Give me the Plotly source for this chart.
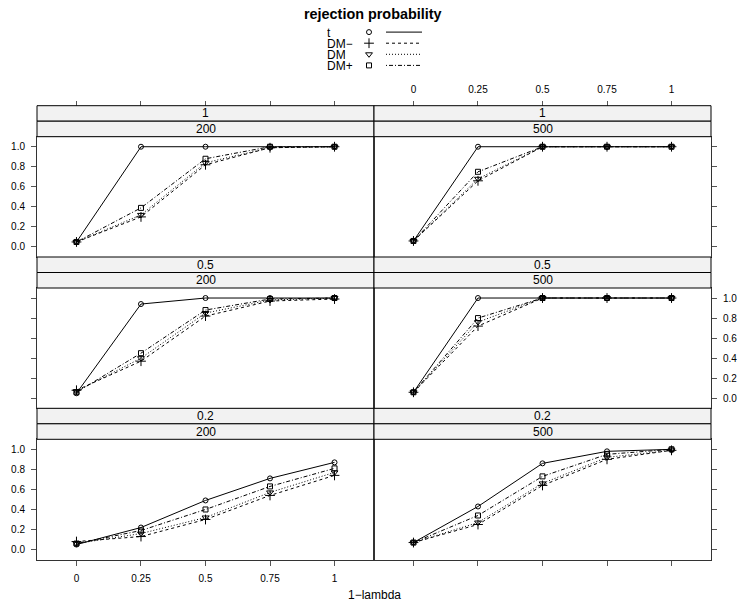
import plotly.graph_objects as go

# ---------------- data ----------------
x_vals = [0, 0.25, 0.5, 0.75, 1]
x_ticktext = ["0", "0.25", "0.5", "0.75", "1"]
y_tickvals = [0.0, 0.2, 0.4, 0.6, 0.8, 1.0]
y_ticktext = ["0.0", "0.2", "0.4", "0.6", "0.8", "1.0"]
methods = ["t", "DM\u2212", "DM", "DM+"]
strip_top = ["1", "1", "0.5", "0.5", "0.2", "0.2"]
strip_n = ["200", "500", "200", "500", "200", "500"]

# panel: top strip 1, N=200
p1_200_t = [0.05, 1.00, 1.00, 1.00, 1.00]
p1_200_dmm = [0.05, 0.30, 0.82, 0.99, 1.00]
p1_200_dm = [0.05, 0.32, 0.84, 0.99, 1.00]
p1_200_dmp = [0.05, 0.39, 0.88, 1.00, 1.00]
# panel: top strip 1, N=500
p1_500_t = [0.06, 1.00, 1.00, 1.00, 1.00]
p1_500_dmm = [0.06, 0.66, 1.00, 1.00, 1.00]
p1_500_dm = [0.06, 0.68, 1.00, 1.00, 1.00]
p1_500_dmp = [0.06, 0.75, 1.00, 1.00, 1.00]
# panel: top strip 0.5, N=200
p05_200_t = [0.05, 0.94, 1.00, 1.00, 1.00]
p05_200_dmm = [0.08, 0.37, 0.82, 0.97, 0.99]
p05_200_dm = [0.07, 0.40, 0.85, 0.98, 1.00]
p05_200_dmp = [0.06, 0.45, 0.88, 0.99, 1.00]
# panel: top strip 0.5, N=500
p05_500_t = [0.06, 1.00, 1.00, 1.00, 1.00]
p05_500_dmm = [0.06, 0.72, 1.00, 1.00, 1.00]
p05_500_dm = [0.06, 0.76, 1.00, 1.00, 1.00]
p05_500_dmp = [0.06, 0.80, 1.00, 1.00, 1.00]
# panel: top strip 0.2, N=200
p02_200_t = [0.05, 0.22, 0.49, 0.71, 0.87]
p02_200_dmm = [0.08, 0.13, 0.30, 0.54, 0.74]
p02_200_dm = [0.06, 0.16, 0.32, 0.57, 0.77]
p02_200_dmp = [0.06, 0.19, 0.40, 0.63, 0.81]
# panel: top strip 0.2, N=500
p02_500_t = [0.07, 0.43, 0.86, 0.98, 1.00]
p02_500_dmm = [0.07, 0.25, 0.64, 0.90, 0.99]
p02_500_dm = [0.07, 0.27, 0.66, 0.92, 0.99]
p02_500_dmp = [0.07, 0.34, 0.73, 0.95, 1.00]

panels = [
    [p1_200_t, p1_200_dmm, p1_200_dm, p1_200_dmp],
    [p1_500_t, p1_500_dmm, p1_500_dm, p1_500_dmp],
    [p05_200_t, p05_200_dmm, p05_200_dm, p05_200_dmp],
    [p05_500_t, p05_500_dmm, p05_500_dm, p05_500_dmp],
    [p02_200_t, p02_200_dmm, p02_200_dm, p02_200_dmp],
    [p02_500_t, p02_500_dmm, p02_500_dm, p02_500_dmp],
]

# ---------------- styles ----------------
W, H = 739, 602
FONT = "Liberation Sans, Arial, Helvetica, sans-serif"
symbols = ["circle-open", "cross-thin-open", "triangle-down-open", "square-open"]
msizes = [5, 7, 6, 5]
dashes = ["solid", "3px,3px", "1px,2px", "1px,2px,4px,2px"]
BORDER = "#333333"
TICKC = "#555555"


def px(v):
    return v / W


def py(v):
    return 1 - v / H


col_x = [(37, 374), (374, 711)]
row_strip_top = [105.7, 257.0, 408.3]
STRIP_H = 15.5
ROW_H = 151.3

fig = go.Figure()
shapes = []
annotations = []

xr = [-0.153, 1.153]
yr = [-0.1, 1.1]

for i in range(6):
    r, c = divmod(i, 2)
    idx = i + 1
    xa = "x" if idx == 1 else f"x{idx}"
    ya = "y" if idx == 1 else f"y{idx}"
    for k in range(4):
        fig.add_trace(go.Scatter(
            x=x_vals, y=panels[i][k], xaxis=xa, yaxis=ya, mode="lines+markers",
            line=dict(color="black", width=1, dash=dashes[k]),
            marker=dict(symbol=symbols[k], size=msizes[k], color="black",
                        line=dict(color="black", width=1)),
            showlegend=False, hoverinfo="skip"))
    st = row_strip_top[r]
    x0, x1 = col_x[c]
    ptop = st + 2 * STRIP_H
    pbot = st + ROW_H
    xkey = "xaxis" if idx == 1 else f"xaxis{idx}"
    ykey = "yaxis" if idx == 1 else f"yaxis{idx}"
    xaxis = dict(domain=[px(x0), px(x1)], range=xr, anchor=ya,
                 showgrid=False, zeroline=False, showline=True, mirror=True,
                 linecolor=BORDER, linewidth=1, tickvals=x_vals, ticktext=x_ticktext,
                 ticks="outside" if r == 2 else "", ticklen=5, tickcolor=TICKC,
                 showticklabels=(r == 2 and c == 0), ticklabelstandoff=4,
                 tickfont=dict(family=FONT, size=10, color="black"))
    yaxis = dict(domain=[py(pbot), py(ptop)], range=yr, anchor=xa,
                 side="left" if c == 0 else "right",
                 showgrid=False, zeroline=False, showline=True, mirror=True,
                 linecolor=BORDER, linewidth=1, tickvals=y_tickvals, ticktext=y_ticktext,
                 ticks="outside", ticklen=5, tickcolor=TICKC,
                 showticklabels=((c == 0 and r != 1) or (c == 1 and r == 1)),
                 ticklabelstandoff=4,
                 tickfont=dict(family=FONT, size=10, color="black"))
    fig.layout[xkey] = xaxis
    fig.layout[ykey] = yaxis
    # strips
    for s, txt in enumerate([strip_top[i], strip_n[i]]):
        s0 = st + s * STRIP_H
        s1 = s0 + STRIP_H
        shapes.append(dict(type="rect", xref="paper", yref="paper",
                           x0=px(x0), x1=px(x1), y0=py(s1), y1=py(s0),
                           fillcolor="#f2f2f2", line=dict(color="black", width=1)))
        annotations.append(dict(text=txt, xref="paper", yref="paper",
                                x=px((x0 + x1) / 2), y=py((s0 + s1) / 2),
                                xanchor="center", yanchor="middle", showarrow=False,
                                font=dict(family=FONT, size=12, color="black")))

# top axes (ticks on top of strips in first row)
for j, (ov, ya) in enumerate([("x", "y"), ("x2", "y2")]):
    idx = 7 + j
    fig.add_trace(go.Scatter(x=[None], y=[None], xaxis=f"x{idx}", yaxis=ya,
                             showlegend=False, hoverinfo="skip"))
    fig.layout[f"xaxis{idx}"] = dict(
        overlaying=ov, anchor="free", position=py(row_strip_top[0]), side="top",
        range=xr, showgrid=False, zeroline=False, showline=False,
        tickvals=x_vals, ticktext=x_ticktext, ticks="outside", ticklen=5,
        tickcolor=TICKC, showticklabels=(j == 1), ticklabelstandoff=4,
        tickfont=dict(family=FONT, size=10, color="black"))

# legend drawn on a hidden full-canvas axis (pixel coordinates)
leg_y = [32.1, 43.2, 54.3, 65.4]
for k in range(4):
    fig.add_trace(go.Scatter(
        x=[369], y=[leg_y[k]], xaxis="x9", yaxis="y9", mode="markers",
        marker=dict(symbol=symbols[k], size=msizes[k], color="black",
                    line=dict(color="black", width=1)),
        showlegend=False, hoverinfo="skip"))
    fig.add_trace(go.Scatter(
        x=[386, 422], y=[leg_y[k], leg_y[k]], xaxis="x9", yaxis="y9", mode="lines",
        line=dict(color="black", width=1, dash=dashes[k]),
        showlegend=False, hoverinfo="skip"))
    annotations.append(dict(text=methods[k], xref="paper", yref="paper",
                            x=px(325), y=py(leg_y[k] + 0.5), xanchor="left",
                            yanchor="middle", showarrow=False, height=11,
                            valign="middle",
                            font=dict(family=FONT, size=12, color="black")))
fig.layout["xaxis9"] = dict(domain=[0, 1], range=[0, W], anchor="y9", visible=False)
fig.layout["yaxis9"] = dict(domain=[0, 1], range=[H, 0], anchor="x9", visible=False)

annotations.append(dict(text="<b>rejection probability</b>", xref="paper", yref="paper",
                        x=px(373), y=py(14), xanchor="center", yanchor="middle",
                        showarrow=False, font=dict(family=FONT, size=14.4, color="black")))
annotations.append(dict(text="1\u2212lambda", xref="paper", yref="paper",
                        x=px(374), y=py(595), xanchor="center", yanchor="middle",
                        showarrow=False, font=dict(family=FONT, size=12, color="black")))

fig.update_layout(width=W, height=H, margin=dict(l=0, r=0, t=0, b=0),
                  paper_bgcolor="white", plot_bgcolor="rgba(0,0,0,0)",
                  shapes=shapes, annotations=annotations, showlegend=False)

fig.write_html("out.html", config={"displayModeBar": False},
               post_script="document.body.style.margin='0';document.body.style.overflow='hidden';")
